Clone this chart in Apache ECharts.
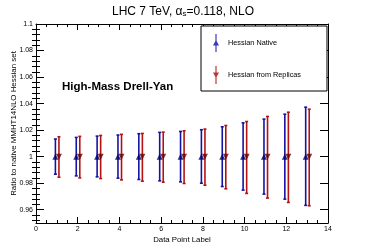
<!DOCTYPE html>
<html>
<head>
<meta charset="utf-8">
<script src="https://cdn.jsdelivr.net/npm/echarts@6/dist/echarts.min.js"></script>
<style>html,body{margin:0;padding:0;background:#fff}#c{width:366px;height:248px}</style>
</head>
<body>
<div id="c"></div>
<script>
var points = [1,2,3,4,5,6,7,8,9,10,11,12,13];
var nativeCenter = [1,1,1,1,1,1,1,1,1,1,1,1,1];
var nativeHigh = [1.0133,1.0145,1.0155,1.0163,1.0173,1.0183,1.0190,1.0203,1.0225,1.0255,1.0283,1.0320,1.0373];
var nativeLow  = [0.9868,0.9855,0.9848,0.9838,0.9828,0.9818,0.9810,0.9800,0.9775,0.9748,0.9718,0.9680,0.9633];
var replicaCenter = [1,1,1,1,1,1,1,1,1,1,1,1,1];
var replicaHigh = [1.0150,1.0153,1.0160,1.0168,1.0175,1.0185,1.0195,1.0208,1.0235,1.0265,1.0303,1.0335,1.0358];
var replicaLow  = [0.9845,0.9840,0.9835,0.9825,0.9815,0.9808,0.9798,0.9785,0.9758,0.9723,0.9688,0.9655,0.9630];
var yMajorTicks = [0.96,0.98,1.00,1.02,1.04,1.06,1.08,1.10];
var yLabels = ['0.96','0.98','1','1.02','1.04','1.06','1.08','1.1'];
var yMinorTicks = [0.952,0.956,0.964,0.968,0.972,0.976,0.984,0.988,0.992,0.996,1.004,1.008,1.012,1.016,1.024,1.028,1.032,1.036,1.044,1.048,1.052,1.056,1.064,1.068,1.072,1.076,1.084,1.088,1.092,1.096];

var FONT = 'Liberation Sans, Arial, sans-serif';
var blueLine = '#1414a4', redLine = '#b41212';
var blueMark = '#00006c', redMark = '#6c0000';
var offB = -0.07, offR = 0.1;

function barData(low, high, off){
  return points.map(function(p,i){ return [p+off, low[i], high[i]]; });
}
function renderBar(color){
  return function(params, api){
    var x = api.value(0);
    var lo = api.coord([x, api.value(1)]);
    var hi = api.coord([x, api.value(2)]);
    var st = {stroke: color, lineWidth: 1.6};
    return {type:'group', children:[
      {type:'line', shape:{x1:lo[0],y1:lo[1],x2:hi[0],y2:hi[1]}, style:st},
      {type:'line', shape:{x1:lo[0]-1.5,y1:lo[1],x2:lo[0]+1.5,y2:lo[1]}, style:st},
      {type:'line', shape:{x1:hi[0]-1.5,y1:hi[1],x2:hi[0]+1.5,y2:hi[1]}, style:st}
    ]};
  };
}

var lineStyle = {color:'#000', width:1};
var chart = echarts.init(document.getElementById('c'), null, {renderer:'canvas'});
var iconUp = 'path://M2.4,0 H3.6 V7 L6,11.5 H3.6 V18 H2.4 V11.5 H0 L2.4,7 Z';
var iconDown = 'path://M2.4,0 H3.6 V6.5 H6 L3.6,11 V18 H2.4 V11 L0,6.5 H2.4 Z';

chart.setOption({
  animation:false,
  title:{
    text:'{a|LHC 7 TeV, α}{s|s}{a|=0.118, NLO}',
    left:'center', top:-1,
    textStyle:{fontWeight:'normal', rich:{
      a:{fontFamily:FONT, fontSize:12, fontWeight:'normal', color:'#000', lineHeight:15},
      s:{fontFamily:FONT, fontSize:8, fontWeight:'normal', color:'#000', lineHeight:15, padding:[5,0,0,0]}
    }}
  },
  legend:{
    orient:'vertical', left:201, top:26,
    backgroundColor:'#fff', borderColor:'#000', borderWidth:1, borderRadius:0,
    padding:[8,26,7,12], itemGap:14, itemWidth:6, itemHeight:18,
    textStyle:{fontFamily:FONT, fontSize:7.3, color:'#000', padding:[0,0,0,4]},
    data:[
      {name:'Hessian Native', icon:iconUp, itemStyle:{color:'#3a3ab8'}},
      {name:'Hessian from Replicas', icon:iconDown, itemStyle:{color:'#b83a3a'}}
    ]
  },
  graphic:[{
    type:'text', left:62, top:81,
    style:{text:'High-Mass Drell-Yan', fontFamily:FONT, fontSize:11.5, fontWeight:'bold', fill:'#000'}
  }],
  grid:{left:36, right:38, top:24, bottom:25, containLabel:false, outerBoundsMode:'none'},
  xAxis:[
    {type:'value', min:0, max:14, interval:2, position:'bottom',
     name:'Data Point Label', nameLocation:'middle', nameGap:13, nameMoveOverlap:false,
     nameTextStyle:{fontFamily:FONT, fontSize:7.8, color:'#000'},
     axisLine:{show:true, onZero:false, lineStyle:lineStyle},
     axisTick:{show:true, inside:true, length:6, lineStyle:lineStyle},
     axisLabel:{fontFamily:FONT, fontSize:7, color:'#000', margin:3, showMinLabel:true, showMaxLabel:true},
     splitLine:{show:false}},
    {type:'value', min:0, max:14, interval:0.5, position:'bottom',
     axisLine:{show:false}, axisTick:{show:true, inside:true, length:3, lineStyle:lineStyle},
     axisLabel:{show:false}, splitLine:{show:false}},
    {type:'value', min:0, max:14, interval:2, position:'top',
     axisLine:{show:true, onZero:false, lineStyle:lineStyle},
     axisTick:{show:true, inside:true, length:6, lineStyle:lineStyle},
     axisLabel:{show:false}, splitLine:{show:false}},
    {type:'value', min:0, max:14, interval:0.5, position:'top',
     axisLine:{show:false}, axisTick:{show:true, inside:true, length:3, lineStyle:lineStyle},
     axisLabel:{show:false}, splitLine:{show:false}}
  ],
  yAxis:[
    {type:'value', min:0.95, max:1.1, position:'left',
     name:'Ratio to native MMHT14NLO Hessian set', nameLocation:'middle', nameGap:18, nameMoveOverlap:false,
     nameTextStyle:{fontFamily:FONT, fontSize:7.9, color:'#000'},
     axisLine:{show:true, onZero:false, lineStyle:lineStyle},
     axisTick:{show:true, inside:true, length:8, lineStyle:lineStyle, customValues:yMajorTicks},
     axisLabel:{fontFamily:FONT, fontSize:7, color:'#000', margin:3,
       customValues:yMajorTicks,
       formatter:function(v){ var i = yMajorTicks.findIndex(function(t){return Math.abs(t-v)<1e-6;}); return i>=0 ? yLabels[i] : ''; }},
     splitLine:{show:false}},
    {type:'value', min:0.95, max:1.1, position:'left',
     axisLine:{show:false}, axisTick:{show:true, inside:true, length:4, lineStyle:lineStyle, customValues:yMinorTicks},
     axisLabel:{show:false}, splitLine:{show:false}},
    {type:'value', min:0.95, max:1.1, position:'right',
     axisLine:{show:true, onZero:false, lineStyle:lineStyle},
     axisTick:{show:true, inside:true, length:8, lineStyle:lineStyle, customValues:yMajorTicks},
     axisLabel:{show:false}, splitLine:{show:false}},
    {type:'value', min:0.95, max:1.1, position:'right',
     axisLine:{show:false}, axisTick:{show:true, inside:true, length:4, lineStyle:lineStyle, customValues:yMinorTicks},
     axisLabel:{show:false}, splitLine:{show:false}}
  ],
  series:[
    {name:'Hessian Native', type:'custom', xAxisIndex:0, yAxisIndex:0,
     renderItem:renderBar(blueLine), data:barData(nativeLow, nativeHigh, offB),
     encode:{x:0, y:[1,2]}, itemStyle:{color:'#3a3ab8'}, z:3},
    {name:'Hessian from Replicas', type:'custom', xAxisIndex:0, yAxisIndex:0,
     renderItem:renderBar(redLine), data:barData(replicaLow, replicaHigh, offR),
     encode:{x:0, y:[1,2]}, itemStyle:{color:'#b83a3a'}, z:3},
    {name:'Hessian Native', type:'scatter', symbol:'triangle', symbolSize:6,
     itemStyle:{color:blueMark}, z:5,
     data:points.map(function(p,i){return [p+offB, nativeCenter[i]];})},
    {name:'Hessian from Replicas', type:'scatter', symbol:'triangle', symbolRotate:180, symbolSize:6,
     itemStyle:{color:redMark}, z:5,
     data:points.map(function(p,i){return [p+offR, replicaCenter[i]];})}
  ]
});
</script>
</body>
</html>
